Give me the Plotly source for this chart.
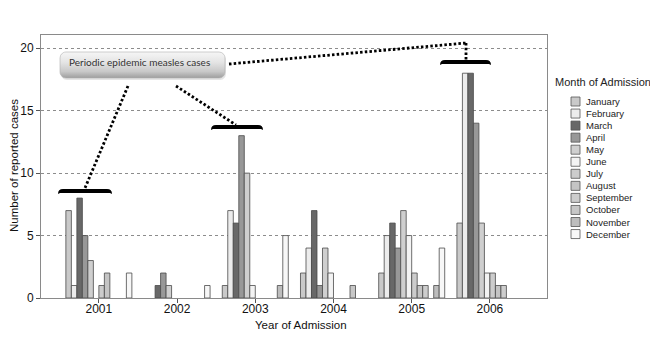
import numpy as np
import plotly.graph_objects as go

# Reported measles cases by year and month of admission
years = ["2001", "2002", "2003", "2004", "2005", "2006"]
months = ["January", "February", "March", "April", "May", "June",
          "July", "August", "September", "October", "November", "December"]

jan = [7, 0, 1, 2, 2, 6]
feb = [1, 0, 7, 4, 5, 18]
mar = [8, 1, 6, 7, 6, 18]
apr = [5, 2, 13, 1, 4, 14]
may = [3, 1, 10, 4, 7, 6]
jun = [0, 0, 1, 2, 5, 2]
jul = [1, 0, 0, 0, 2, 2]
aug = [2, 0, 0, 0, 1, 1]
sep = [0, 0, 0, 0, 1, 1]
octo = [0, 0, 0, 1, 0, 0]
nov = [0, 0, 1, 0, 1, 0]
dec = [2, 1, 5, 0, 4, 0]

month_values = [jan, feb, mar, apr, may, jun, jul, aug, sep, octo, nov, dec]
month_colors = ["#c9c9c9", "#ececec", "#686868", "#989898", "#cfcfcf", "#f3f3f3",
                "#cccccc", "#c4c4c4", "#cdcdcd", "#c7c7c7", "#bdbdbd", "#f7f7f7"]

W, H = 650, 338
L, R, T, B = 41, 103, 35, 40
PW, PH = W - L - R, H - T - B
FONT = "Liberation Sans, Arial, sans-serif"

fig = go.Figure()

for name, vals, col in zip(months, month_values, month_colors):
    fig.add_trace(go.Bar(
        x=years, y=[v if v > 0 else None for v in vals], name=name,
        marker=dict(color=col, line=dict(color="#4a4a4a", width=0.8)),
        showlegend=False, hoverinfo="x+y+name",
    ))

# Callout box with a vertical gradient, drawn on a pixel-space overlay axis
bx0, bx1, by0, by1, rad = 60, 225, 52, 78, 6
def rounded_rect(x0, x1, y0, y1, r, n=8):
    xs, ys = [], []
    corners = [(x1 - r, y0 + r, -90, 0), (x1 - r, y1 - r, 0, 90),
               (x0 + r, y1 - r, 90, 180), (x0 + r, y0 + r, 180, 270)]
    for cx, cy, a0, a1 in corners:
        for a in np.linspace(np.radians(a0), np.radians(a1), n):
            xs.append(cx + r * np.cos(a))
            ys.append(cy + r * np.sin(a))
    xs.append(xs[0]); ys.append(ys[0])
    return xs, ys

sx, sy = rounded_rect(bx0 + 1, bx1 + 1, by0 + 2, by1 + 2, rad)
fig.add_trace(go.Scatter(x=sx, y=sy, xaxis="x2", yaxis="y2", mode="lines",
                         line=dict(width=0), fill="toself",
                         fillcolor="rgba(0,0,0,0.10)", hoverinfo="skip", showlegend=False))
gx, gy = rounded_rect(bx0, bx1, by0, by1, rad)
fig.add_trace(go.Scatter(
    x=gx, y=gy, xaxis="x2", yaxis="y2", mode="lines",
    line=dict(width=0.6, color="#b0b0b0"), fill="toself",
    fillgradient=dict(type="vertical", start=by0, stop=by1,
                      colorscale=[[0, "#f6f6f6"], [0.4, "#e4e4e4"], [0.75, "#c8c8c8"], [1, "#9e9e9e"]]),
    hoverinfo="skip", showlegend=False))

shapes = []
dot = dict(color="black", width=2.8, dash="2.5px,2.2px")
def seg(x0, y0, x1, y1):
    shapes.append(dict(type="line", xref="x2", yref="y2", x0=x0, y0=y0, x1=x1, y1=y1, line=dot))

seg(229, 64, 466, 43)
seg(466, 43, 466, 60)
seg(128, 86, 85, 188)
seg(176, 86, 236, 125)

def bracket(x0, x1, yt, h=4):
    p = (f"M{x0},{yt + h + 1} Q{x0},{yt} {x0 + 5},{yt} L{x1 - 5},{yt} "
         f"Q{x1},{yt} {x1},{yt + h + 1} L{x1 - 2},{yt + h} L{x0 + 2},{yt + h} Z")
    shapes.append(dict(type="path", xref="x2", yref="y2", path=p,
                       fillcolor="black", line=dict(width=0)))

bracket(58, 112, 189)
bracket(211, 263, 125)
bracket(440, 491, 60)

annotations = [dict(x=67, y=61.5, xref="x2", yref="y2", text="Periodic epidemic measles cases",
                    showarrow=False, xanchor="left", yanchor="middle",
                    font=dict(family="Lato, Open Sans, sans-serif", size=10, color="#333333"))]

# Axis titles
def px(x):
    return (x - L) / PW
def py(y):
    return (H - B - y) / PH

annotations.append(dict(x=px(14), y=py(166), xref="paper", yref="paper", text="Number of reported cases",
                        textangle=-90, showarrow=False, xanchor="center", yanchor="middle",
                        font=dict(family=FONT, size=11.5, color="#111111")))
annotations.append(dict(x=px(301), y=py(325), xref="paper", yref="paper", text="Year of Admission",
                        showarrow=False, xanchor="center", yanchor="middle",
                        font=dict(family=FONT, size=11.5, color="#111111")))

# Legend: title, swatches and month names
annotations.append(dict(x=px(553), y=py(82), xref="paper", yref="paper", text="Month of Admission",
                        showarrow=False, xanchor="left", yanchor="middle",
                        font=dict(family=FONT, size=11, color="#222222")))
for i, (name, col) in enumerate(zip(months, month_colors)):
    yc = 101.5 + i * 12.05
    shapes.append(dict(type="rect", xref="paper", yref="paper",
                       x0=px(571), x1=px(580), y0=py(yc - 4.5), y1=py(yc + 4.5),
                       fillcolor=col, line=dict(color="#555555", width=0.8)))
    annotations.append(dict(x=px(584), y=py(yc), xref="paper", yref="paper", text=name,
                            showarrow=False, xanchor="left", yanchor="middle",
                            font=dict(family=FONT, size=9.5, color="#222222")))

fig.update_layout(
    width=W, height=H, margin=dict(l=L, r=R, t=T, b=B),
    paper_bgcolor="white", plot_bgcolor="white",
    barmode="group", bargap=0.156, bargroupgap=0,
    showlegend=False,
    font=dict(family=FONT, size=12, color="#111111"),
    xaxis=dict(type="category", range=[-0.74, 5.73], showgrid=False,
               showline=True, linecolor="#8a8a8a", linewidth=1, mirror=True,
               ticks="outside", ticklen=4, tickcolor="#555555", ticklabelstandoff=-4,
               tickfont=dict(family=FONT, size=12, color="#111111")),
    yaxis=dict(range=[0, 21.06], dtick=5, showgrid=True, gridcolor="#8c8c8c",
               griddash="dot", gridwidth=1, zeroline=False,
               showline=True, linecolor="#8a8a8a", linewidth=1, mirror=True,
               ticks="outside", ticklen=4, tickcolor="#555555",
               tickfont=dict(family=FONT, size=12, color="#111111")),
    xaxis2=dict(overlaying="x", range=[L, W - R], visible=False, fixedrange=True),
    yaxis2=dict(overlaying="y", range=[H - B, T], visible=False, fixedrange=True),
    shapes=shapes, annotations=annotations,
)

fig.write_html("out.html")
